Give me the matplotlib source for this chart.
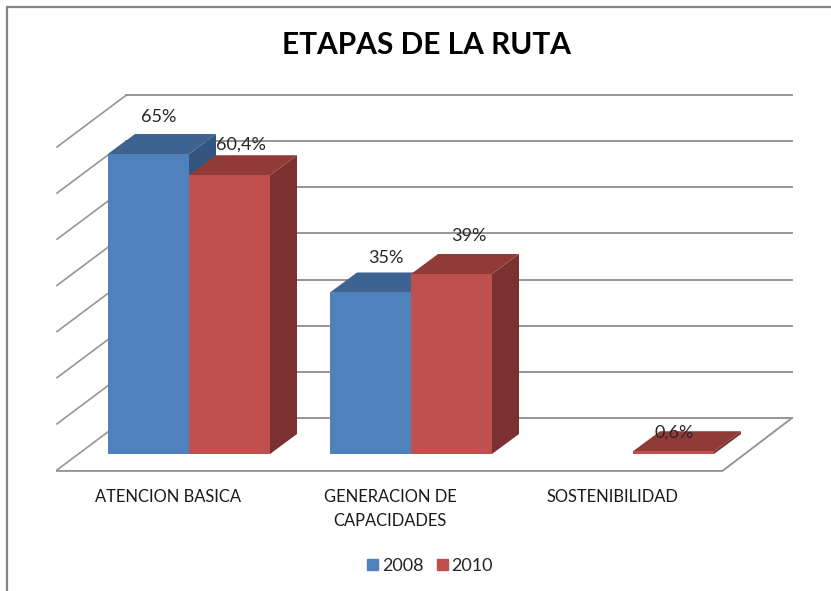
import matplotlib
matplotlib.use('Agg')
import matplotlib.pyplot as plt
import numpy as np

plt.rcParams['font.family'] = ['Lato', 'DejaVu Sans']

categories = ['ATENCION BASICA', 'GENERACION DE\nCAPACIDADES', 'SOSTENIBILIDAD']
values_2008 = [65, 35, np.nan]
values_2010 = [60.4, 39, 0.6]
labels_2008 = ['65%', '35%', '']
labels_2010 = ['60,4%', '39%', '0,6%']
grid_ticks = [0, 10, 20, 30, 40, 50, 60, 70]

W, H = 831, 591
px_x = 222.0     # pixels per category
px_y = 4.615     # pixels per percent
x0_px = 189.0    # pixel of first category centre
y0_px = 454.0    # pixel of zero at the bar front

# bar size and 3d offsets, in data units
bar_w = 81 / px_x
bar_dx = 27 / px_x
bar_dy = 20 / px_y
back_dy = 36 / px_y      # bar front -> back wall
floor_dx = 69.5 / px_x   # depth of the floor
floor_dy = 52 / px_y
x_left = -132 / px_x     # floor front left
x_right = 533.5 / px_x   # floor front right

# label offsets from the top front centre of each bar, in pixels
nudge_2008 = [(10, 37), (15, 34)]
nudge_2010 = [(11, 31), (17, 38), (1, 19)]

fig = plt.figure(figsize=(W / 100, H / 100), dpi=100)
ax = fig.add_axes([0, 0, 1, 1])
ax.set_xlim(-x0_px / px_x, (W - x0_px) / px_x)
ax.set_ylim(-(H - y0_px) / px_y, y0_px / px_y)
ax.axis('off')

# outer chart frame
ax.plot([0.009, 0.009, 1], [0, 0.988, 0.988], transform=ax.transAxes, color='#868686', lw=1.6,
        solid_joinstyle='miter', zorder=1)

# back wall lines and side wall lines
grid_color = '#969696'
for t in grid_ticks:
    yb = t + back_dy
    ax.plot([x_left + floor_dx, x_right + floor_dx], [yb, yb], color=grid_color, lw=1.4, zorder=2)
    ax.plot([x_left, x_left + floor_dx], [yb - floor_dy, yb], color=grid_color, lw=1.2, zorder=2)
# floor front and right edge
ax.plot([x_left, x_right, x_right + floor_dx], [back_dy - floor_dy - 0.2, back_dy - floor_dy - 0.2, back_dy],
        color=grid_color, lw=1.4, zorder=2)


def bar3d(x, v, front, top, side, z):
    ax.fill([x, x + bar_w, x + bar_w, x], [0, 0, v, v], color=front, lw=0, zorder=z + 0.2)
    ax.fill([x, x + bar_w, x + bar_w + bar_dx, x + bar_dx], [v, v, v + bar_dy, v + bar_dy],
            color=top, lw=0, zorder=z + 0.1)
    ax.fill([x + bar_w, x + bar_w + bar_dx, x + bar_w + bar_dx, x + bar_w],
            [0, bar_dy, v + bar_dy, v], color=side, lw=0, zorder=z)


for i in range(len(categories)):
    if not np.isnan(values_2008[i]):
        bar3d(i - bar_w, values_2008[i], '#4F81BD', '#3E6390', '#33557F', 3)
    bar3d(i, values_2010[i], '#C0504D', '#913B39', '#7B3130', 4)

# data labels
for i in range(len(categories)):
    if labels_2008[i]:
        ax.text(i - bar_w / 2 + nudge_2008[i][0] / px_x, values_2008[i] + nudge_2008[i][1] / px_y, labels_2008[i],
                ha='center', va='center', fontsize=13, color='#262626', zorder=6)
    ax.text(i + bar_w / 2 + nudge_2010[i][0] / px_x, values_2010[i] + nudge_2010[i][1] / px_y, labels_2010[i],
            ha='center', va='center', fontsize=13, color='#262626', zorder=6)

# category labels
for i, c in enumerate(categories):
    ax.text(i - 21 / px_x, -(496.5 - y0_px) / px_y, c.split('\n')[0], ha='center', va='center',
            fontsize=11.9, color='#1a1a1a')
    if '\n' in c:
        ax.text(i - 21 / px_x, -(521 - y0_px) / px_y, c.split('\n')[1], ha='center', va='center',
                fontsize=11.9, color='#1a1a1a')

# title
ax.text(426.5 / W, 1 - 45 / H, 'ETAPAS DE LA RUTA', transform=ax.transAxes, ha='center', va='center',
        fontsize=21.5, fontweight='bold', color='black')

# legend
h = [plt.Rectangle((0, 0), 1, 1, color='#4F81BD'), plt.Rectangle((0, 0), 1, 1, color='#C0504D')]
ax.legend(h, ['2008', '2010'], ncol=2, frameon=False, loc='center', bbox_to_anchor=(430 / W, 1 - 566 / H),
          bbox_transform=ax.transAxes, fontsize=13, handlelength=0.62, handleheight=0.62,
          handletextpad=0.2, columnspacing=0.75, labelcolor='#262626')

plt.savefig('out.png', dpi=100, facecolor='white')
